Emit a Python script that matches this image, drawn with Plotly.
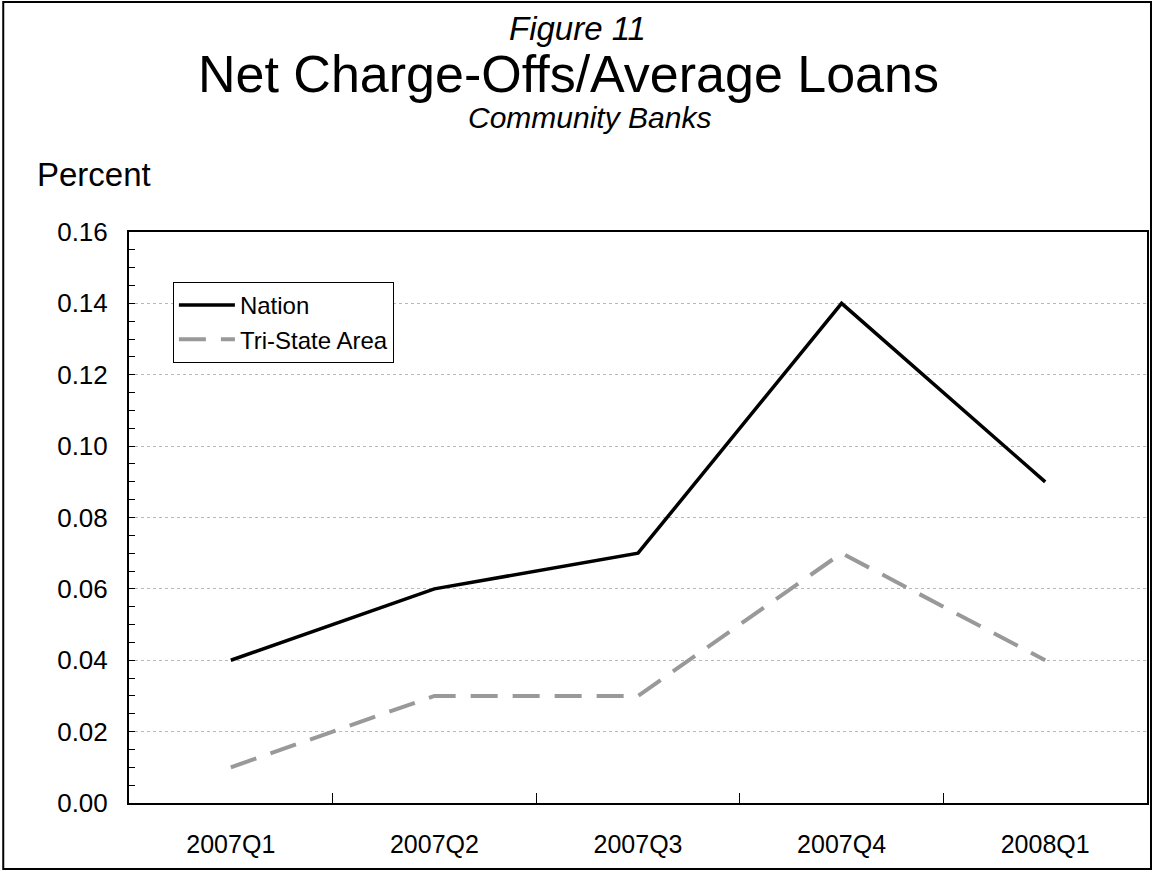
import plotly.graph_objects as go

quarters = ["2007Q1", "2007Q2", "2007Q3", "2007Q4", "2008Q1"]
nation = [0.04, 0.06, 0.07, 0.14, 0.09]
tri_state = [0.01, 0.03, 0.03, 0.07, 0.04]
y_ticks = [0.00, 0.02, 0.04, 0.06, 0.08, 0.10, 0.12, 0.14, 0.16]

FONT = "Liberation Sans, Arial, sans-serif"

# Page geometry (pixels)
W, H = 1156, 871
L, R, T, B = 129, 1149, 232, 803
PW, PH = R - L, B - T


def px_x(x):
    return (x - L) / PW


def px_y(y):
    return (B - y) / PH


fig = go.Figure()
fig.add_trace(go.Scatter(
    x=quarters, y=nation, mode="lines", name="Nation",
    line=dict(color="#000000", width=3.5),
))
fig.add_trace(go.Scatter(
    x=quarters, y=tri_state, mode="lines", name="Tri-State Area",
    line=dict(color="#999999", width=4, dash="27px,15px"),
))

fig.update_layout(
    width=W, height=H,
    margin=dict(l=L, r=W - R, t=T, b=H - B),
    paper_bgcolor="white", plot_bgcolor="white",
    font=dict(family=FONT, color="#000000", size=25),
    showlegend=True,
    legend=dict(
        x=px_x(173), y=px_y(282), xanchor="left", yanchor="top",
        bgcolor="white", bordercolor="#000000", borderwidth=1,
        font=dict(size=24), itemwidth=56, tracegroupgap=0,
    ),
    xaxis=dict(
        type="category", range=[-0.5, 4.5], tickson="boundaries",
        ticks="inside", ticklen=10, tickcolor="#000000", tickwidth=1,
        showline=True, linecolor="#000000", linewidth=2, mirror=True,
        showgrid=False, ticklabelstandoff=18,
        tickfont=dict(size=25),
    ),
    yaxis=dict(
        range=[0, 0.16], tickvals=y_ticks, tickformat=".2f",
        ticks="inside", ticklen=6, tickcolor="#000000", tickwidth=1,
        minor=dict(ticks="inside", dtick=0.005, ticklen=6, tickcolor="#000000", showgrid=False),
        showline=True, linecolor="#000000", linewidth=2, mirror=True,
        showgrid=True, gridcolor="#b8b8b8", griddash="dot", gridwidth=1,
        zeroline=False, ticklabelstandoff=14,
        tickfont=dict(size=26),
    ),
    annotations=[
        dict(text="<i>Figure 11</i>", x=px_x(W / 2), y=px_y(29),
             font=dict(size=33)),
        dict(text="Net Charge-Offs/Average Loans", x=px_x(W / 2 - 9), y=px_y(74),
             font=dict(size=52)),
        dict(text="<i>Community Banks</i>", x=px_x(W / 2 + 12), y=px_y(117),
             font=dict(size=30)),
        dict(text="Percent", x=px_x(35), y=px_y(175), xanchor="left",
             font=dict(size=33)),
    ],
    shapes=[
        dict(type="rect", xref="paper", yref="paper",
             x0=px_x(3), x1=px_x(1153), y0=px_y(869), y1=px_y(2),
             line=dict(color="#000000", width=2), layer="below"),
    ],
)
fig.update_annotations(xref="paper", yref="paper", showarrow=False, yanchor="middle")

fig.write_html("out.html")
